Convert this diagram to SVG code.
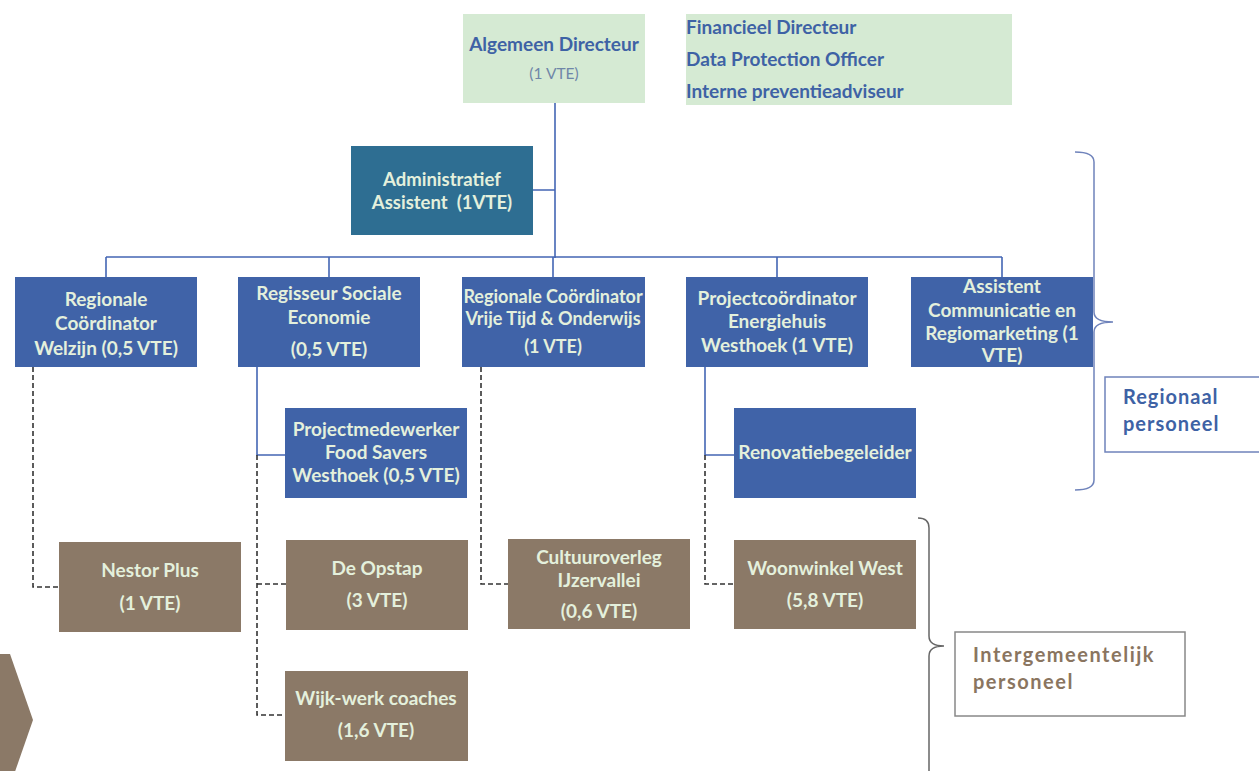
<svg xmlns="http://www.w3.org/2000/svg" width="1259" height="771" viewBox="0 0 1259 771">
<style>
.t{font-family:Lato,"Liberation Sans",sans-serif;font-weight:bold;text-anchor:middle}
.w{fill:#e4f0dc;font-size:19px}
.s{font-size:18px}
.m{font-size:18.5px}
.g{fill:#d5ead3}
.b{fill:#4063a8}
.br{fill:#8b7967}
.sol{stroke:#4466b4;stroke-width:1.6;fill:none}
.dash{stroke:#333;stroke-width:1.6;fill:none;stroke-dasharray:5,3}
</style>
<rect width="1259" height="771" fill="#fff"/>
<g id="connectors">
<path class="sol" d="M555 103V258M533 190H555M106 257H1002M106 257V277M329 257V277M553 257V277M777 257V277M1002 257V277"/>
<path class="sol" d="M257 367V455H285M705 367V455H734"/>
<path class="dash" d="M33 367V587H59M257 455V715H285M257 584H286M481 367V584H508M705 455V584H734"/>
</g>
<g id="algemeen-directeur">
<rect class="g" x="463" y="14" width="182" height="89"/>
<text class="t" x="554" y="51" fill="#3e62a5" font-size="19">Algemeen Directeur</text>
<text x="554" y="79" fill="#6f86a8" font-size="15.5" text-anchor="middle" font-family="Lato,'Liberation Sans',sans-serif">(1 VTE)</text>
</g>
<g id="staf">
<rect class="g" x="686" y="14" width="326" height="91"/>
<g font-family="Lato,'Liberation Sans',sans-serif" font-weight="bold" font-size="19" fill="#3e62a5">
<text x="686" y="34">Financieel Directeur</text>
<text x="686" y="66">Data Protection Officer</text>
<text x="686" y="98">Interne preventieadviseur</text>
</g>
</g>
<g id="admin">
<rect x="351" y="146" width="182" height="89" fill="#2e6e92"/>
<text class="t w m" x="442" y="186">Administratief</text>
<text class="t w m" x="442" y="209" xml:space="preserve">Assistent  (1VTE)</text>
</g>
<g id="welzijn">
<rect class="b" x="15" y="277" width="182" height="90"/>
<text class="t w" x="106" y="306">Regionale</text>
<text class="t w" x="106" y="330">Coördinator</text>
<text class="t w" x="106" y="355">Welzijn (0,5 VTE)</text>
</g>
<g id="regisseur">
<rect class="b" x="238" y="277" width="182" height="90"/>
<text class="t w" x="329" y="300">Regisseur Sociale</text>
<text class="t w" x="329" y="324">Economie</text>
<text class="t w" x="329" y="356">(0,5 VTE)</text>
</g>
<g id="vrije-tijd">
<rect class="b" x="462" y="277" width="183" height="90"/>
<text class="t w s" x="553" y="303">Regionale Coördinator</text>
<text class="t w s" x="553" y="325">Vrije Tijd &amp; Onderwijs</text>
<text class="t w s" x="553" y="353">(1 VTE)</text>
</g>
<g id="energiehuis">
<rect class="b" x="686" y="277" width="182" height="90"/>
<text class="t w" x="777" y="305">Projectcoördinator</text>
<text class="t w" x="777" y="328">Energiehuis</text>
<text class="t w" x="777" y="352">Westhoek (1 VTE)</text>
</g>
<g id="assistent">
<rect class="b" x="911" y="277" width="182" height="90"/>
<text class="t w" x="1002" y="293">Assistent</text>
<text class="t w" x="1002" y="317">Communicatie en</text>
<text class="t w" x="1002" y="340">Regiomarketing (1</text>
<text class="t w" x="1002" y="362">VTE)</text>
</g>
<g id="projectmedewerker">
<rect class="b" x="285" y="408" width="182" height="90"/>
<text class="t w" x="376" y="436">Projectmedewerker</text>
<text class="t w" x="376" y="459">Food Savers</text>
<text class="t w" x="376" y="482">Westhoek (0,5 VTE)</text>
</g>
<g id="renovatie">
<rect class="b" x="734" y="408" width="182" height="90"/>
<text class="t w" x="825" y="459">Renovatiebegeleider</text>
</g>
<g id="nestor">
<rect class="br" x="59" y="542" width="182" height="90"/>
<text class="t w" x="150" y="577">Nestor Plus</text>
<text class="t w" x="150" y="610">(1 VTE)</text>
</g>
<g id="opstap">
<rect class="br" x="286" y="540" width="182" height="90"/>
<text class="t w" x="377" y="575">De Opstap</text>
<text class="t w" x="377" y="607">(3 VTE)</text>
</g>
<g id="cultuur">
<rect class="br" x="508" y="539" width="182" height="90"/>
<text class="t w" x="599" y="564">Cultuuroverleg</text>
<text class="t w" x="599" y="587">IJzervallei</text>
<text class="t w" x="599" y="618">(0,6 VTE)</text>
</g>
<g id="woonwinkel">
<rect class="br" x="734" y="540" width="182" height="89"/>
<text class="t w" x="825" y="575">Woonwinkel West</text>
<text class="t w" x="825" y="607">(5,8 VTE)</text>
</g>
<g id="wijkwerk">
<rect class="br" x="285" y="671" width="183" height="90"/>
<text class="t w" x="376" y="705">Wijk-werk coaches</text>
<text class="t w" x="376" y="737">(1,6 VTE)</text>
</g>
<g id="regionaal">
<path d="M1075 152Q1094 152 1094 162V312Q1094 322 1113 322Q1094 322 1094 332V480Q1094 490 1075 490" fill="none" stroke="#6f83bb" stroke-width="1.5"/>
<rect x="1105" y="377" width="160" height="75" fill="#fff" stroke="#6f83bb" stroke-width="1.5"/>
<g font-family="Lato,'Liberation Sans',sans-serif" font-weight="bold" font-size="20" fill="#3e62a5" letter-spacing="1">
<text x="1123" y="404">Regionaal</text>
<text x="1123" y="431">personeel</text>
</g>
</g>
<g id="intergemeentelijk">
<path d="M918 518Q929 518 929 528V636Q929 646 944 646Q929 646 929 656V780" fill="none" stroke="#666" stroke-width="1.5"/>
<rect x="955" y="632" width="230" height="84" fill="#fff" stroke="#888" stroke-width="1.5"/>
<g font-family="Lato,'Liberation Sans',sans-serif" font-weight="bold" font-size="20" fill="#8a7560" letter-spacing="1.5">
<text x="973" y="662">Intergemeentelijk</text>
<text x="973" y="689">personeel</text>
</g>
</g>
<polygon points="0,654 10,654 33,720 10,786 0,786" fill="#8b7967"/>
</svg>
